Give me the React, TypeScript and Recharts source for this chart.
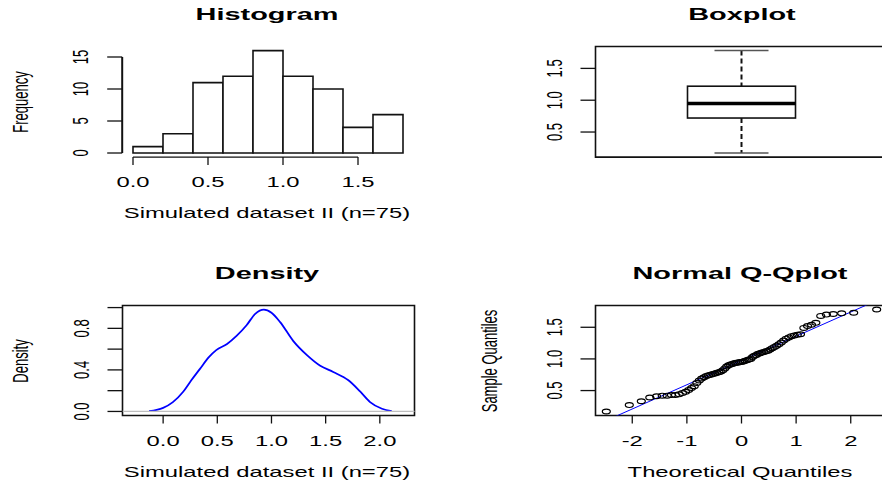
import {
  Bar,
  BarChart,
  ComposedChart,
  Line,
  LineChart,
  ReferenceArea,
  ReferenceLine,
  Scatter,
  XAxis,
  YAxis,
} from "recharts";

const FONT = "'Liberation Sans', Arial, Helvetica, sans-serif";
const STRETCH = 1.7; // glyphs in the source are stretched sideways
const INK = "#111";

// histogram
const binStarts = [0, 0.2, 0.4, 0.6, 0.8, 1.0, 1.2, 1.4, 1.6];
const binCounts = [1, 3, 11, 12, 16, 12, 10, 4, 6];
const BIN_WIDTH = 0.2;
const histXTicks = [0, 0.5, 1, 1.5];
const histYTicks = [0, 5, 10, 15];
const histXDomain = [-0.072, 1.872];
const histYDomain = [-0.64, 16.64];

// boxplot: min, lower hinge, median, upper hinge, max
const boxFive = [0.17, 0.72, 0.95, 1.22, 1.78];
const sampleYTicks = [0.5, 1, 1.5];
const sampleYDomain = [0.106, 1.844];

// kernel density
const densityX = [
  -0.13, -0.06, 0.0, 0.09, 0.185, 0.26, 0.34, 0.42, 0.49, 0.59, 0.68, 0.77,
  0.85, 0.93, 1.0, 1.08, 1.2, 1.33, 1.45, 1.57, 1.71, 1.82, 1.91, 2.02, 2.11,
];
const densityY = [
  0.003, 0.016, 0.035, 0.09, 0.19, 0.3, 0.41, 0.52, 0.59, 0.65, 0.73, 0.83,
  0.94, 0.98, 0.95, 0.86, 0.68, 0.54, 0.44, 0.38, 0.3, 0.19, 0.09, 0.026, 0.004,
];
const densityXTicks = [0, 0.5, 1, 1.5, 2];
const densityYTicks = [0, 0.2, 0.4, 0.6, 0.8, 1];
const densityYLabels = [0, 0.4, 0.8];
const densityXDomain = [-0.375, 2.32];
const densityYDomain = [-0.039, 1.02];

// normal q-q
const theoretical = [
  -2.475, -2.054, -1.834, -1.679, -1.555, -1.451, -1.361, -1.282, -1.209,
  -1.142, -1.08, -1.022, -0.967, -0.915, -0.866, -0.818, -0.772, -0.728,
  -0.685, -0.643, -0.603, -0.563, -0.524, -0.486, -0.449, -0.412, -0.376,
  -0.341, -0.305, -0.271, -0.236, -0.202, -0.168, -0.134, -0.1, -0.067,
  -0.033, 0, 0.033, 0.067, 0.1, 0.134, 0.168, 0.202, 0.236, 0.271, 0.305,
  0.341, 0.376, 0.412, 0.449, 0.486, 0.524, 0.563, 0.603, 0.643, 0.685,
  0.728, 0.772, 0.818, 0.866, 0.915, 0.967, 1.022, 1.08, 1.142, 1.209, 1.282,
  1.361, 1.451, 1.555, 1.679, 1.834, 2.054, 2.475,
];
const sample = [
  0.17, 0.27, 0.33, 0.39, 0.41, 0.42, 0.42, 0.43, 0.43, 0.44, 0.46, 0.48,
  0.51, 0.54, 0.57, 0.62, 0.66, 0.69, 0.71, 0.73, 0.74, 0.75, 0.76, 0.77,
  0.78, 0.79, 0.8, 0.82, 0.85, 0.88, 0.9, 0.91, 0.92, 0.93, 0.94, 0.94, 0.95,
  0.95, 0.96, 0.97, 0.98, 0.99, 1.0, 1.03, 1.05, 1.06, 1.08, 1.09, 1.1, 1.11,
  1.12, 1.13, 1.15, 1.17, 1.19, 1.21, 1.23, 1.26, 1.29, 1.32, 1.34, 1.36,
  1.37, 1.38, 1.39, 1.49, 1.52, 1.54, 1.57, 1.68, 1.7, 1.71, 1.72, 1.73, 1.78,
];
const qqLine = [0.975, 0.383]; // intercept, slope
const qqXTicks = [-2, -1, 0, 1, 2];
const qqXDomain = [-2.673, 2.673];

const histData = binStarts.map((s, i) => ({
  mid: s + BIN_WIDTH / 2,
  count: binCounts[i],
}));
const boxData = [
  {
    name: "x",
    range: [boxFive[0], boxFive[4]],
    q1: boxFive[1],
    median: boxFive[2],
    q3: boxFive[3],
  },
];
const densityData = densityX.map((x, i) => ({ x, y: densityY[i] }));
const qqData = theoretical.map((x, i) => ({ x, y: sample[i] }));

const HText = ({ x, y, size, bold, children }: any) => (
  <text
    transform={`translate(${x},${y}) scale(${STRETCH},1)`}
    textAnchor="middle"
    fontSize={size}
    fontWeight={bold ? "bold" : "normal"}
    fontFamily={FONT}
    fill="#000"
  >
    {children}
  </text>
);

const VText = ({ x, y, size, children }: any) => (
  <text
    transform={`translate(${x},${y}) scale(${STRETCH},1) rotate(-90)`}
    textAnchor="middle"
    fontSize={size}
    fontFamily={FONT}
    fill="#000"
  >
    {children}
  </text>
);

const fmt1 = (v: number) => v.toFixed(1);

const xTick = (fmt: (v: number) => string) => (props: any) => (
  <HText x={props.x} y={props.y + 22} size={14}>
    {fmt(props.payload.value)}
  </HText>
);

const yTick =
  (fmt: (v: number) => string, shown?: number[]) => (props: any) => {
    if (shown && !shown.includes(props.payload.value)) return <g />;
    return (
      <VText x={props.x - 19} y={props.y} size={13}>
        {fmt(props.payload.value)}
      </VText>
    );
  };

const TICK_LINE = { stroke: INK, strokeWidth: 1.3 };

const xAxisProps = {
  type: "number" as const,
  allowDataOverflow: true,
  axisLine: false,
  tickLine: TICK_LINE,
  tickSize: 8,
  tickMargin: 0,
  interval: 0,
  height: 60,
};
const yAxisProps = {
  type: "number" as const,
  allowDataOverflow: true,
  axisLine: false,
  tickLine: TICK_LINE,
  tickSize: 15,
  tickMargin: 0,
  interval: 0,
  width: 60,
};

const BoxShape = (props: any) => {
  const { x, y, width, height, payload } = props;
  const [lo, hi] = payload.range;
  const py = (v: number) => y + (height * (hi - v)) / (hi - lo);
  const cx = x + width / 2;
  const cap = width / 4;
  return (
    <g>
      <line x1={cx} x2={cx} y1={py(hi)} y2={py(payload.q3)} stroke={INK} strokeWidth={2} strokeDasharray="5 3" />
      <line x1={cx} x2={cx} y1={py(payload.q1)} y2={py(lo)} stroke={INK} strokeWidth={2} strokeDasharray="5 3" />
      <line x1={cx - cap} x2={cx + cap} y1={py(hi)} y2={py(hi)} stroke="#555" strokeWidth={1.4} />
      <line x1={cx - cap} x2={cx + cap} y1={py(lo)} y2={py(lo)} stroke="#555" strokeWidth={1.4} />
      <rect
        x={x}
        y={py(payload.q3)}
        width={width}
        height={py(payload.q1) - py(payload.q3)}
        fill="#fff"
        stroke={INK}
        strokeWidth={1.6}
      />
      <line x1={x} x2={x + width} y1={py(payload.median)} y2={py(payload.median)} stroke="#000" strokeWidth={3.5} />
    </g>
  );
};

const Ring = (props: any) => (
  <ellipse cx={props.cx} cy={props.cy} rx={4} ry={2.4} fill="none" stroke="#000" strokeWidth={1.2} />
);

const Histogram = () => (
  <BarChart
    width={441}
    height={242}
    data={histData}
    barCategoryGap={0}
    margin={{ top: 46.5, right: 27.2, bottom: 24.9, left: 62.2 }}
  >
    <XAxis {...xAxisProps} dataKey="mid" domain={histXDomain} ticks={histXTicks} tick={xTick(fmt1)} />
    <YAxis {...yAxisProps} domain={histYDomain} ticks={histYTicks} tick={yTick(String)} />
    <Bar dataKey="count" fill="#fff" stroke={INK} strokeWidth={1.6} isAnimationActive={false} />
    <ReferenceLine
      segment={[
        { x: histXTicks[0], y: histYDomain[0] },
        { x: histXTicks[histXTicks.length - 1], y: histYDomain[0] },
      ]}
      stroke={INK}
      strokeWidth={1.3}
      ifOverflow="visible"
    />
    <ReferenceLine
      segment={[
        { x: histXDomain[0], y: histYTicks[0] },
        { x: histXDomain[0], y: histYTicks[histYTicks.length - 1] },
      ]}
      stroke={INK}
      strokeWidth={2}
      ifOverflow="visible"
    />
    <HText x={267} y={20} size={17} bold>
      Histogram
    </HText>
    <VText x={28.4} y={102} size={13}>
      Frequency
    </VText>
    <HText x={267} y={218} size={14}>
      Simulated dataset II (n=75)
    </HText>
  </BarChart>
);

const Boxplot = () => (
  <ComposedChart
    width={470}
    height={242}
    data={boxData}
    margin={{ top: 46.5, right: 23.5, bottom: 84.9, left: 94.5 }}
  >
    <XAxis dataKey="name" type="category" hide />
    <YAxis {...yAxisProps} domain={sampleYDomain} ticks={sampleYTicks} tick={yTick(fmt1)} />
    <ReferenceArea y1={sampleYDomain[0]} y2={sampleYDomain[1]} fill="none" stroke={INK} strokeWidth={1.6} ifOverflow="visible" />
    <Bar dataKey="range" barSize={108} shape={BoxShape} isAnimationActive={false} />
    <HText x={301} y={20} size={17} bold>
      Boxplot
    </HText>
  </ComposedChart>
);

const Density = () => (
  <LineChart
    width={441}
    height={243}
    data={densityData}
    margin={{ top: 63.5, right: 26.5, bottom: 9.5, left: 62.5 }}
  >
    <XAxis {...xAxisProps} dataKey="x" domain={densityXDomain} ticks={densityXTicks} tick={xTick(fmt1)} />
    <YAxis {...yAxisProps} domain={densityYDomain} ticks={densityYTicks} tick={yTick(fmt1, densityYLabels)} />
    <Line dataKey="y" type="monotone" stroke="#0000ff" strokeWidth={1.8} dot={false} isAnimationActive={false} />
    <ReferenceLine y={0} stroke="#bebebe" strokeWidth={1.3} />
    <ReferenceArea
      x1={densityXDomain[0]}
      x2={densityXDomain[1]}
      y1={densityYDomain[0]}
      y2={densityYDomain[1]}
      fill="none"
      stroke={INK}
      strokeWidth={1.6}
      ifOverflow="visible"
    />
    <HText x={267} y={37} size={17} bold>
      Density
    </HText>
    <VText x={28.4} y={119} size={13}>
      Density
    </VText>
    <HText x={267} y={234.7} size={14}>
      Simulated dataset II (n=75)
    </HText>
  </LineChart>
);

const QQPlot = () => (
  <ComposedChart
    width={470}
    height={243}
    margin={{ top: 63.5, right: 23.5, bottom: 9.5, left: 94.5 }}
  >
    <XAxis {...xAxisProps} dataKey="x" domain={qqXDomain} ticks={qqXTicks} tick={xTick(String)} />
    <YAxis {...yAxisProps} dataKey="y" domain={sampleYDomain} ticks={sampleYTicks} tick={yTick(fmt1)} />
    <Scatter data={qqData} shape={Ring} isAnimationActive={false} />
    <ReferenceLine
      segment={qqXDomain.map((x) => ({ x, y: qqLine[0] + qqLine[1] * x }))}
      stroke="#0000ff"
      strokeWidth={1}
      ifOverflow="hidden"
    />
    <ReferenceArea
      x1={qqXDomain[0]}
      x2={qqXDomain[1]}
      y1={sampleYDomain[0]}
      y2={sampleYDomain[1]}
      fill="none"
      stroke={INK}
      strokeWidth={1.6}
      ifOverflow="visible"
    />
    <HText x={299} y={37} size={17} bold>
      Normal Q-Qplot
    </HText>
    <VText x={56} y={119} size={13}>
      Sample Quantiles
    </VText>
    <HText x={299} y={234.7} size={14}>
      Theoretical Quantiles
    </HText>
  </ComposedChart>
);

const panel = (left: number, top: number) => ({
  position: "absolute" as const,
  left,
  top,
});

export default function App() {
  return (
    <div
      style={{
        position: "absolute",
        left: 0,
        top: 0,
        width: 882,
        height: 485,
        overflow: "hidden",
        background: "#fff",
      }}
    >
      <div style={panel(0, 0)}>
        <Histogram />
      </div>
      <div style={panel(441, 0)}>
        <Boxplot />
      </div>
      <div style={panel(0, 242)}>
        <Density />
      </div>
      <div style={panel(441, 242)}>
        <QQPlot />
      </div>
    </div>
  );
}
